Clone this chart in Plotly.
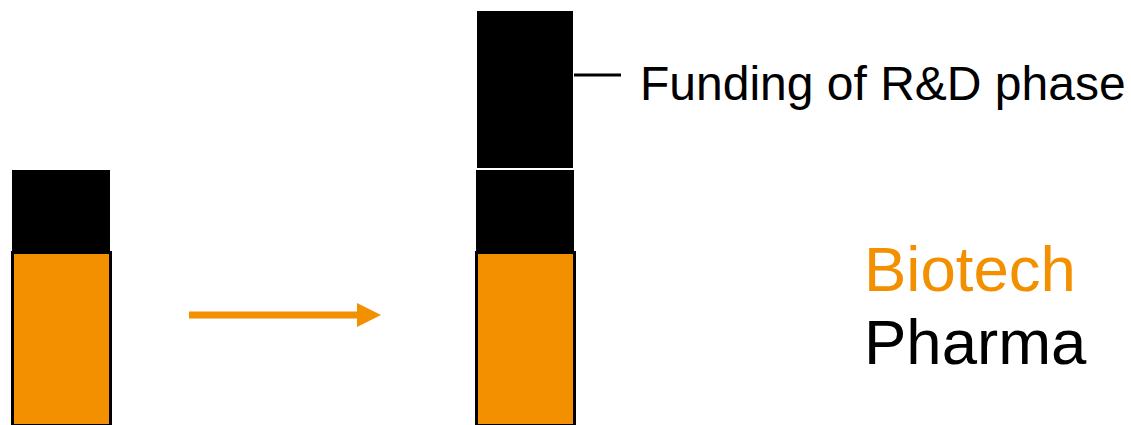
import plotly.graph_objects as go

# Funding structure before / after the R&D phase
stages = [0, 1]
biotech = [173, 173]
pharma = [83, 83]
rd_funding = [0, 159]

ORANGE = "#F29000"
W, H = 1131, 425
bar_width = 0.2112

fig = go.Figure()
fig.add_bar(x=stages, y=biotech, width=bar_width, name="Biotech",
            marker=dict(color=ORANGE, line=dict(color="black", width=3)))
fig.add_bar(x=stages, y=pharma, width=bar_width, name="Pharma",
            marker=dict(color="black", line=dict(color="black", width=0)))
fig.add_bar(x=stages, y=rd_funding, width=bar_width, name="Funding of R&D phase",
            marker=dict(color="black", line=dict(color="white", width=2.5)))


def px(x):
    return x / W


def py(y):
    return 1 - y / H


shapes = [
    # leader line to the R&D label
    dict(type="line", xref="paper", yref="paper",
         x0=px(574), x1=px(621), y0=py(75), y1=py(75),
         line=dict(color="black", width=3)),
    # arrow shaft
    dict(type="line", xref="paper", yref="paper",
         x0=px(189), x1=px(362), y0=py(315), y1=py(315),
         line=dict(color=ORANGE, width=7)),
    # arrow head
    dict(type="path", xref="paper", yref="paper",
         path=f"M {px(357)},{py(303)} L {px(381)},{py(315)} L {px(357)},{py(327)} Z",
         fillcolor=ORANGE, line=dict(color=ORANGE, width=0)),
]

font = "Liberation Sans, Arial, sans-serif"
annotations = [
    dict(text="Funding of R&D phase", xref="paper", yref="paper",
         x=px(638), y=py(83), xanchor="left", yanchor="middle", showarrow=False,
         font=dict(family=font, size=48, color="black")),
    dict(text="Biotech", xref="paper", yref="paper",
         x=px(862), y=py(269), xanchor="left", yanchor="middle", showarrow=False,
         font=dict(family=font, size=63.5, color=ORANGE)),
    dict(text="Pharma", xref="paper", yref="paper",
         x=px(862), y=py(342), xanchor="left", yanchor="middle", showarrow=False,
         font=dict(family=font, size=63.5, color="black")),
]

fig.update_layout(
    barmode="stack",
    width=W, height=H,
    margin=dict(l=0, r=0, t=0, b=0),
    paper_bgcolor="white", plot_bgcolor="white",
    showlegend=False,
    xaxis=dict(range=[-61 / 464, (W - 61) / 464], visible=False, fixedrange=True),
    yaxis=dict(range=[0, 425], visible=False, fixedrange=True),
    shapes=shapes,
    annotations=annotations,
)

fig.write_html("out.html", config={"displayModeBar": False})
